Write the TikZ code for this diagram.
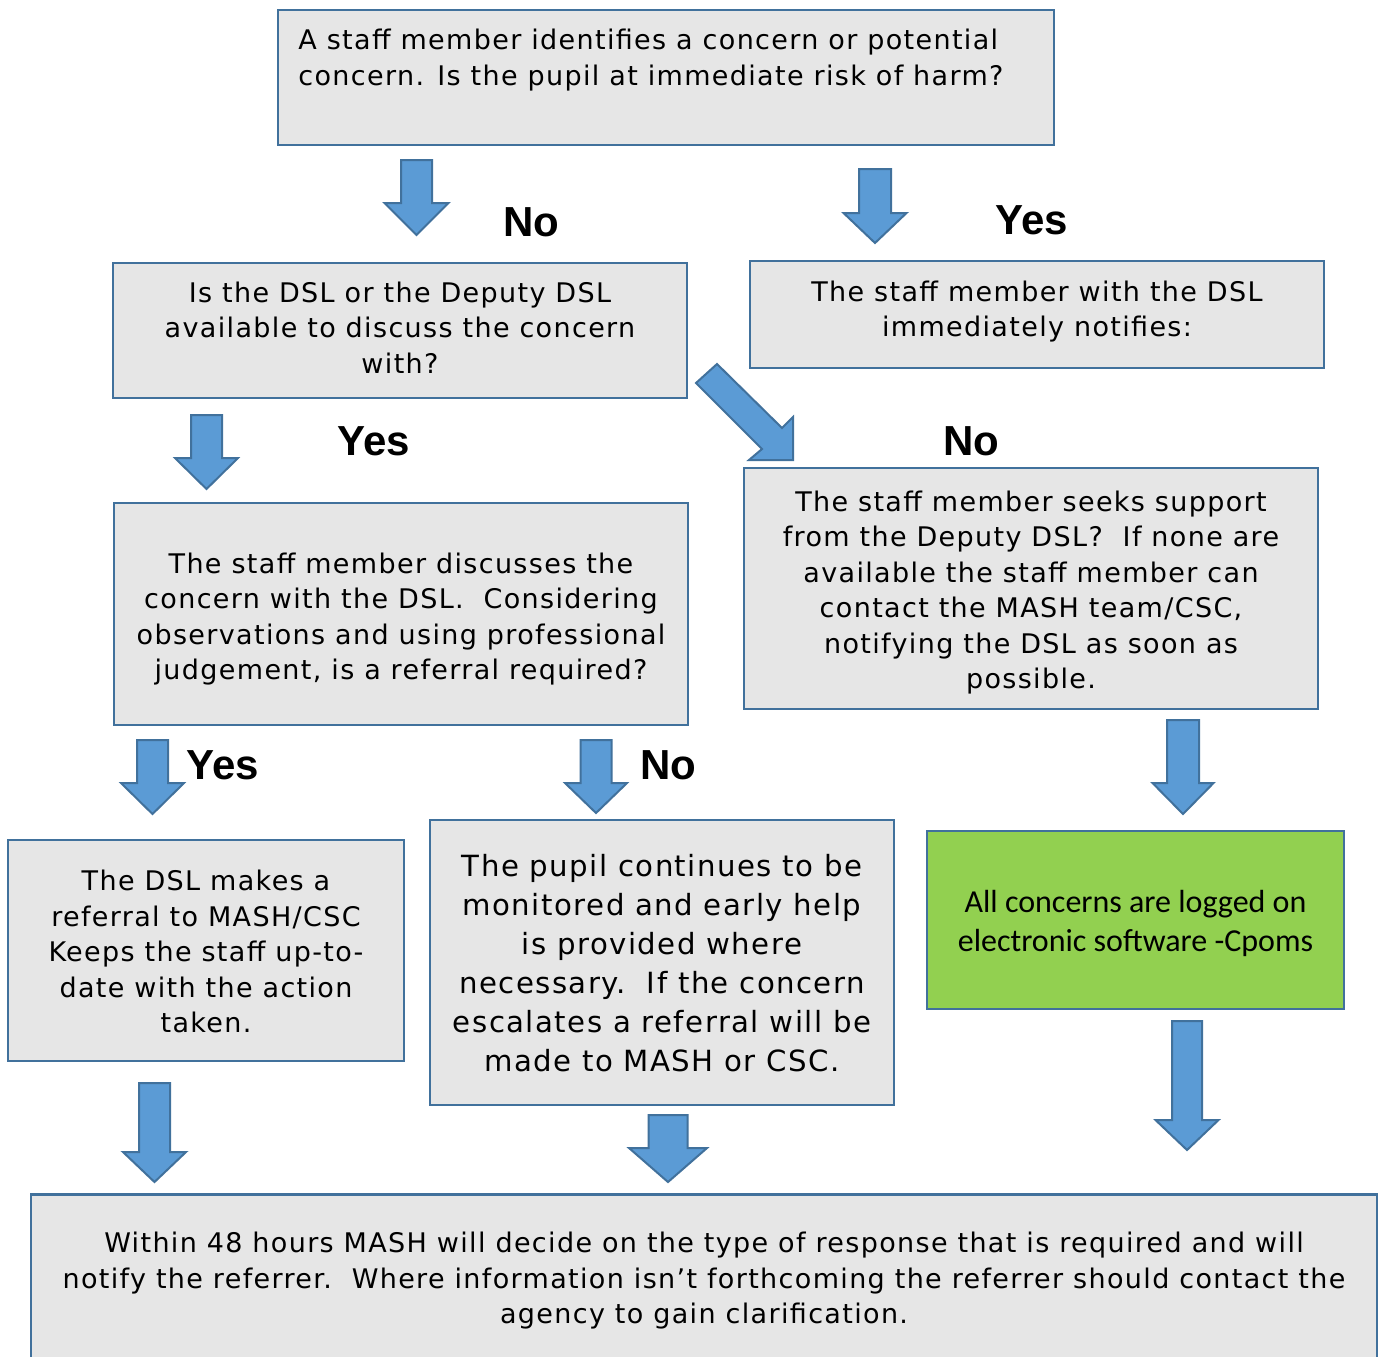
\documentclass[tikz,border=0pt]{standalone}
\usepackage{fontspec}
\setmainfont{DejaVu Sans}[LetterSpace=5.0]
\newfontfamily\labelfont{Liberation Sans}
\newfontfamily\calfont{Carlito}
\definecolor{boxfill}{HTML}{E6E6E6}
\definecolor{boxline}{HTML}{41719C}
\definecolor{arrfill}{HTML}{5B9BD5}
\definecolor{arrline}{HTML}{41719C}
\definecolor{greenfill}{HTML}{92D050}
\newcommand\dnarrow[6]{% cx, half shaft, half head, top, head start, tip
  \draw[barrow] ({#1-#2},#4) -- ({#1+#2},#4) -- ({#1+#2},#5) -- ({#1+#3},#5)
    -- (#1,#6) -- ({#1-#3},#5) -- ({#1-#2},#5) -- cycle;}
\tikzset{
  box/.style={draw=boxline, fill=boxfill, line width=1.25pt, inner sep=0pt},
  txt/.style={inner sep=0pt, align=center, font={\fontsize{13.5pt}{17.75pt}\selectfont}},
  barrow/.style={draw=arrline, fill=arrfill, line width=1pt, line join=miter},
  yn/.style={font={\labelfont\bfseries\fontsize{21pt}{24pt}\selectfont},
    anchor=base west, inner sep=0pt},
}
\begin{document}
\begin{tikzpicture}[x=0.5pt,y=-0.5pt]
\clip (0,0) rectangle (1384,1356);
\fill[white] (0,0) rectangle (1384,1356);

% boxes
\node[box, minimum width=388pt, minimum height=67.5pt] (b1) at (666,77.5) {};
\node[txt, align=left, anchor=north west] (t1) at (298,29)
  {A staff member identifies a concern or potential\\concern. Is the pupil at immediate risk of harm?};

\node[box, minimum width=287pt, minimum height=67.5pt] (b2) at (400,330.5) {};
\node[txt] (t2) at ([yshift=1.5pt]b2.center)
  {Is the DSL or the Deputy DSL\\available to discuss the concern\\with?};

\node[box, minimum width=287pt, minimum height=53.5pt] (b3) at (1037,314.5) {};
\node[txt] (t3) at ([yshift=1.5pt]b3.center)
  {The staff member with the DSL\\immediately notifies:};

\node[box, minimum width=287pt, minimum height=111pt] (b4) at (401,614) {};
\node[txt] (t4) at ([yshift=-2.5pt]b4.center)
  {The staff member discusses the\\concern with the DSL.\ \ Considering\\observations and using professional\\judgement, is a referral required?};

\node[box, minimum width=287pt, minimum height=120.5pt] (b5) at (1031,588.5) {};
\node[txt] (t5) at ([yshift=-2pt]b5.center)
  {The staff member seeks support\\from the Deputy DSL?\ \ If none are\\available the staff member can\\contact the MASH team/CSC,\\notifying the DSL as soon as\\possible.};

\node[box, minimum width=198pt, minimum height=110.5pt] (b6) at (206,950.5) {};
\node[txt] (t6) at ([yshift=-0.5pt]b6.center)
  {The DSL makes a\\referral to MASH/CSC\\Keeps the staff up-to-\\date with the action\\taken.};

\node[box, minimum width=232pt, minimum height=142.5pt] (b7) at (662,962.5) {};
\node[txt, font={\fontsize{14.6pt}{19.5pt}\selectfont}] (t7) at ([yshift=-0.5pt]b7.center)
  {The pupil continues to be\\monitored and early help\\is provided where\\necessary.\ \ If the concern\\escalates a referral will be\\made to MASH or CSC.};

\node[box, fill=greenfill, minimum width=208.5pt, minimum height=89pt] (b8) at (1135.5,920) {};
\node[txt, font={\calfont\fontsize{16pt}{19.5pt}\selectfont}] (t8) at ([yshift=-1.5pt]b8.center)
  {All concerns are logged on\\electronic software -Cpoms};

\node[box, minimum width=673pt, minimum height=100pt, anchor=north] (b9) at (704,1193) {};
\node[txt, anchor=north] (t9) at (704,1232)
  {Within 48 hours MASH will decide on the type of response that is required and will\\notify the referrer.\ \ Where information isn’t forthcoming the referrer should contact the\\agency to gain clarification.};

% block arrows
\dnarrow{416.5}{15.5}{32}{160}{203}{235}
\dnarrow{875}{16}{31.5}{169}{213}{243}
\dnarrow{206.5}{15.5}{31.5}{415}{458}{489}
\draw[barrow] (717,364) -- (782,428) -- (793,417) -- (793,460) -- (749,460)
  -- (762,449) -- (696,383) -- cycle;
\dnarrow{152.5}{15.5}{31.5}{740}{783}{814}
\dnarrow{596}{15.5}{31}{740}{783}{813}
\dnarrow{1183}{16}{30.5}{720}{783}{814}
\dnarrow{154.5}{15.5}{31.5}{1083}{1152}{1182}
\dnarrow{668}{19.5}{39}{1115}{1148}{1182}
\dnarrow{1187}{15}{31.5}{1021}{1120}{1150}

% labels
\node[yn] (l1) at (503,236) {No};
\node[yn] (l2) at (995,234) {Yes};
\node[yn] (l3) at (337,455) {Yes};
\node[yn] (l4) at (943,455) {No};
\node[yn] (l5) at (186,779) {Yes};
\node[yn] (l6) at (640,779) {No};
\end{tikzpicture}
\end{document}
